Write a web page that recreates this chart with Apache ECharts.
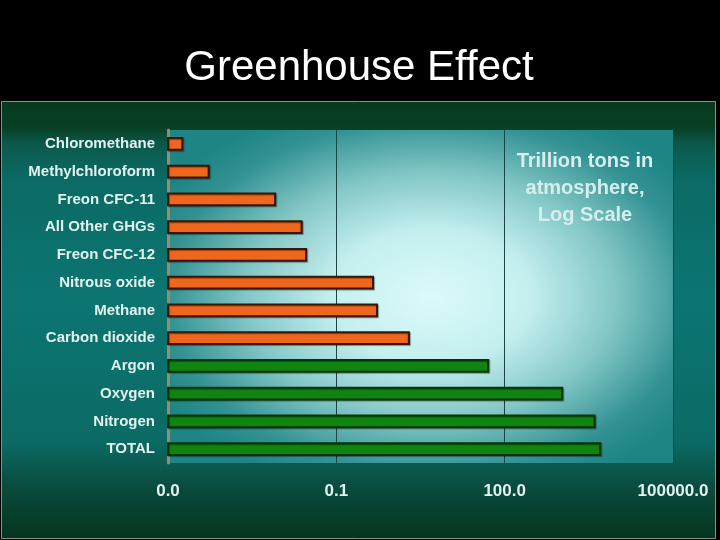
<!DOCTYPE html>
<html>
<head>
<meta charset="utf-8">
<script src="https://cdn.jsdelivr.net/npm/echarts@6/dist/echarts.min.js"></script>
<style>
html,body{margin:0;padding:0;background:#000;}
#chart{width:720px;height:540px;}
</style>
</head>
<body>
<div id="chart"></div>
<script>
// ---- Data (trillion tons in atmosphere, log scale) ----
const ghgNames = ['Chloromethane', 'Methylchloroform', 'Freon CFC-11', 'All Other GHGs', 'Freon CFC-12', 'Nitrous oxide', 'Methane', 'Carbon dioxide'];
const ghgValues = [0.00018, 0.00053, 0.0081, 0.024, 0.029, 0.45, 0.53, 1.96];
const gasNames = ['Argon', 'Oxygen', 'Nitrogen', 'TOTAL'];
const gasValues = [51, 1060, 4000, 5050];
const categories = ghgNames.concat(gasNames);
const tickValues = [0.0001, 0.1, 100, 100000];
const titleText = 'Greenhouse Effect';
const noteLines = ['Trillion tons in', 'atmosphere,', 'Log Scale'];

const XMIN = tickValues[0];
const XMAX = tickValues[tickValues.length - 1];

const chart = echarts.init(document.getElementById('chart'));

function barRenderer(fill, stroke) {
  return function (params, api) {
    const idx = api.value(1);
    const start = api.coord([XMIN, idx]);
    const end = api.coord([api.value(0), idx]);
    const h = api.size([0, 1])[1] * 0.42;
    return {
      type: 'rect',
      shape: { x: start[0], y: end[1] - h / 2, width: end[0] - start[0], height: h },
      style: {
        fill: fill, stroke: stroke, lineWidth: 2,
        shadowColor: 'rgba(0,0,0,0.35)', shadowOffsetY: 1, shadowOffsetX: 1, shadowBlur: 1
      }
    };
  };
}

const G = { left: 168, top: 130, width: 505, height: 333 };
const S = 1.5; // horizontal stretch of the plot highlight

const option = {
  backgroundColor: '#000',
  animation: false,
  graphic: [
    {
      type: 'rect', z: -20, silent: true,
      shape: { x: 1.5, y: 101.5, width: 714, height: 437 },
      style: {
        stroke: '#7d9588', lineWidth: 1,
        fill: {
          type: 'linear', x: 0, y: 0, x2: 0, y2: 1,
          colorStops: [
            { offset: 0, color: '#063a1f' },
            { offset: 0.06, color: '#073f24' },
            { offset: 0.1, color: '#0a5a4c' },
            { offset: 0.18, color: '#0b6a64' },
            { offset: 0.45, color: '#0c7572' },
            { offset: 0.78, color: '#0b6a64' },
            { offset: 0.88, color: '#094c3e' },
            { offset: 1, color: '#05341d' }
          ]
        }
      }
    },
    {
      type: 'rect', z: -10, silent: true,
      x: G.left, y: G.top, scaleX: S, scaleY: 1,
      shape: { x: 0, y: 0, width: G.width / S, height: G.height },
      style: {
        fill: {
          type: 'radial', x: 0.52, y: 0.5, r: 0.62,
          colorStops: [
            { offset: 0, color: '#dcfafa' },
            { offset: 0.32, color: '#c4efef' },
            { offset: 0.6, color: '#82c6c6' },
            { offset: 0.85, color: '#339292' },
            { offset: 1, color: '#1e8484' }
          ]
        }
      }
    },
    {
      type: 'text', z: 10, silent: true,
      style: {
        x: 359, y: 68, text: titleText, fill: '#ffffff',
        font: '42px "Liberation Sans", Arial, sans-serif',
        textAlign: 'center', textVerticalAlign: 'middle'
      }
    },
    {
      type: 'text', z: 10, silent: true,
      style: {
        x: 585, y: 188, text: noteLines.join('\n'), fill: '#d6eeee',
        font: 'bold 20px "Liberation Sans", Arial, sans-serif',
        lineHeight: 27,
        textAlign: 'center', textVerticalAlign: 'middle',
        textShadowColor: 'rgba(0,0,0,0.35)', textShadowOffsetX: 1, textShadowOffsetY: 1
      }
    }
  ],
  grid: { left: G.left, top: G.top, width: G.width, height: G.height, containLabel: false },
  xAxis: {
    type: 'log',
    min: XMIN,
    max: XMAX,
    axisLine: { show: false },
    axisTick: { show: false, customValues: tickValues },
    splitLine: { show: true, customValues: tickValues, lineStyle: { color: '#1b4444', width: 1 } },
    axisLabel: {
      customValues: tickValues,
      margin: 20,
      color: '#e2f2ee',
      fontFamily: '"Liberation Sans", Arial, sans-serif',
      fontWeight: 'bold',
      fontSize: 17,
      textShadowColor: 'rgba(0,0,0,0.35)', textShadowOffsetX: 1, textShadowOffsetY: 1,
      formatter: function (v) { return Number(v).toFixed(1); }
    }
  },
  yAxis: {
    type: 'category',
    data: categories,
    inverse: true,
    axisLine: { show: true, lineStyle: { color: '#9c8a6c', width: 3 } },
    axisTick: { show: false },
    splitLine: { show: false },
    axisLabel: {
      margin: 13,
      color: '#e2f2ee',
      fontFamily: '"Liberation Sans", Arial, sans-serif',
      fontWeight: 'bold',
      fontSize: 15,
      textShadowColor: 'rgba(0,0,0,0.35)', textShadowOffsetX: 1, textShadowOffsetY: 1
    }
  },
  series: [
    {
      name: 'Greenhouse gases',
      type: 'custom',
      renderItem: barRenderer('#ef671c', '#3a1606'),
      encode: { x: 0, y: 1 },
      data: ghgValues.map((v, i) => [v, ghgNames[i]])
    },
    {
      name: 'Major gases',
      type: 'custom',
      renderItem: barRenderer('#108410', '#073407'),
      encode: { x: 0, y: 1 },
      data: gasValues.map((v, i) => [v, gasNames[i]])
    }
  ]
};

chart.setOption(option);
</script>
</body>
</html>
